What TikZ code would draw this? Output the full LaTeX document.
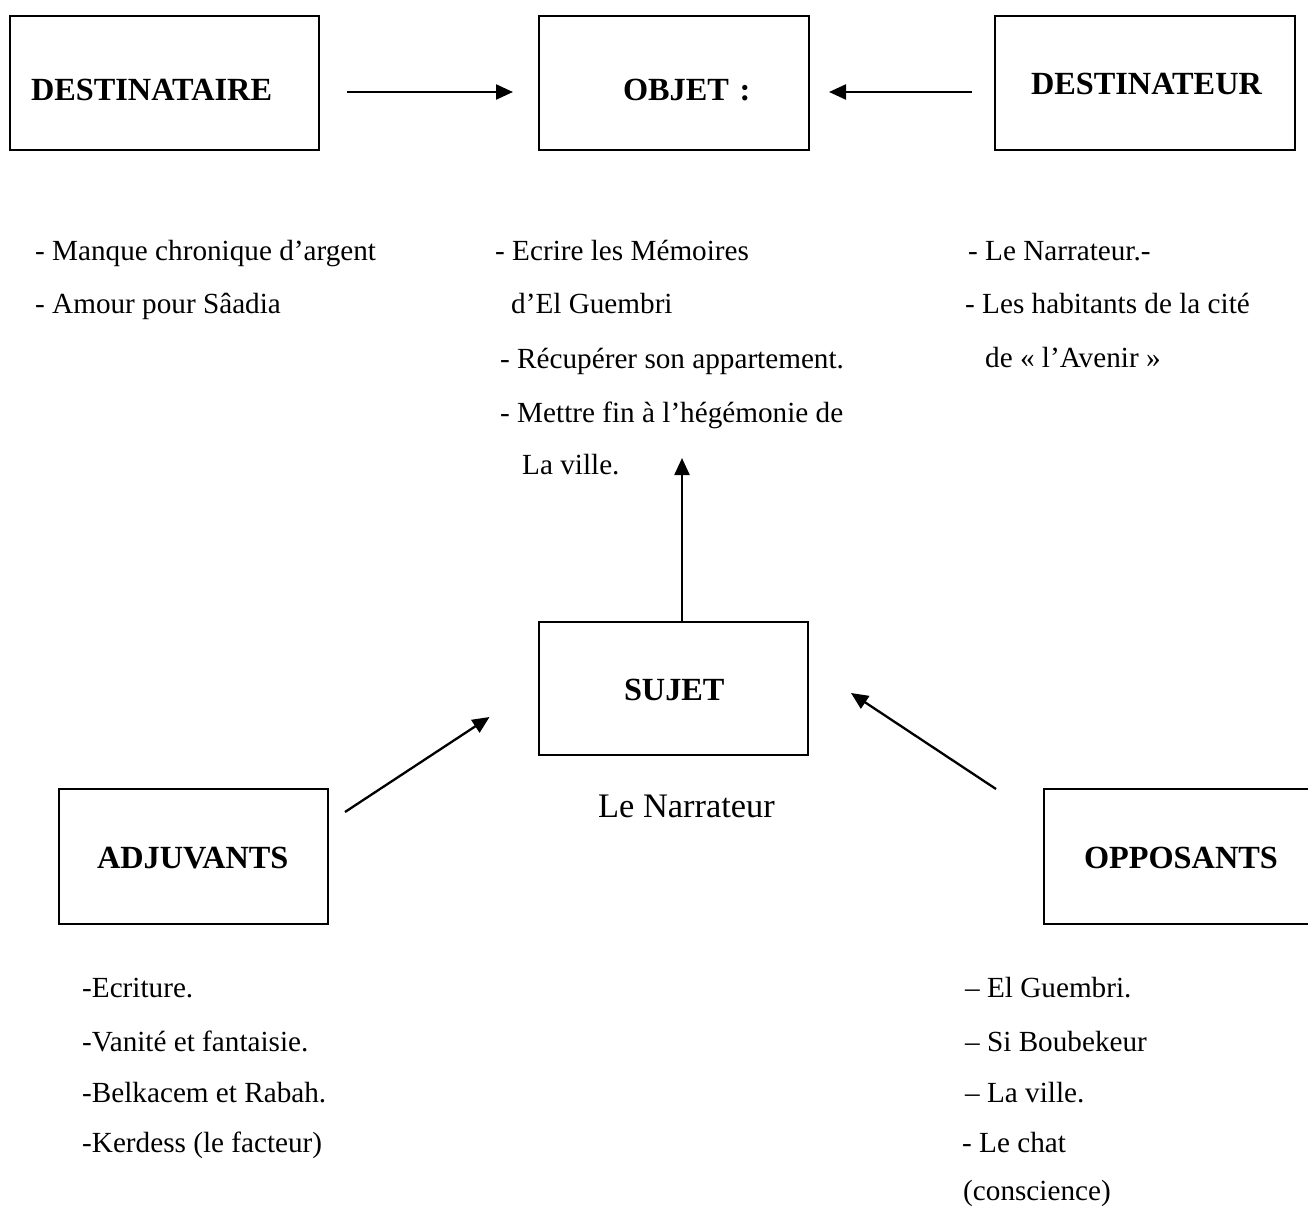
\documentclass[tikz,border=0pt]{standalone}
\usepackage{fontspec}
\setmainfont{Liberation Serif}
\usetikzlibrary{arrows.meta}
\newcommand{\hdfont}{\fontsize{32.3}{38}\selectfont\bfseries}
\newcommand{\bdfont}{\fontsize{29.2}{35}\selectfont}
\newcommand{\bgfont}{\fontsize{34.4}{40}\selectfont}
\begin{document}
\begin{tikzpicture}[x=1pt,y=-1pt,
  box/.style={draw, line width=2pt, rectangle, inner sep=0pt, align=left,
              anchor=north west, font=\hdfont},
  txt/.style={anchor=base west, inner sep=0pt, font=\bdfont},
  conn/.style={line width=2.3pt, -{Triangle[length=17pt,width=15pt]}}]
\useasboundingbox (0,0) rectangle (1308,1208);
\clip (0,0) rectangle (1308,1208);

% boxes
\node[box, text width=309pt, text height=84pt, text depth=50pt] (dtaire) at (9,15)
  {\hspace*{21pt}DESTINATAIRE};
\node[box, text width=270pt, text height=84pt, text depth=50pt] (objet) at (538,15)
  {\hspace*{84pt}OBJET :};
\node[box, text width=300pt, text height=78pt, text depth=56pt] (dteur) at (994,15)
  {\hspace*{36pt}DESTINATEUR};
\node[box, text width=269pt, text height=78pt, text depth=55pt] (sujet) at (538,621)
  {\hspace*{85pt}SUJET};
\node[box, text width=269pt, text height=79pt, text depth=56pt] (adj) at (58,788)
  {\hspace*{38pt}ADJUVANTS};
\node[box, text width=290pt, text height=79pt, text depth=56pt] (opp) at (1043,788)
  {\hspace*{40pt}OPPOSANTS};

% top lists
\node[txt] (dt1) at (35,260) {- Manque chronique d’argent};
\node[txt] (dt2) at (35,313) {- Amour pour Sâadia};

\node[txt] (ob1) at (495,260) {- Ecrire les Mémoires};
\node[txt] (ob2) at (511,313) {d’El Guembri};
\node[txt] (ob3) at (500,368) {- Récupérer son appartement.};
\node[txt] (ob4) at (500,422) {- Mettre fin à l’hégémonie de};
\node[txt] (ob5) at (522,474) {La ville.};

\node[txt] (de1) at (968,260) {- Le Narrateur.-};
\node[txt] (de2) at (965,313) {- Les habitants de la cité};
\node[txt] (de3) at (985,367) {de « l’Avenir »};

% subject label
\node[txt, font=\bgfont] (narr) at (598,817) {Le Narrateur};

% bottom lists
\node[txt] (ad1) at (82,997) {-Ecriture.};
\node[txt] (ad2) at (82,1051) {-Vanité et fantaisie.};
\node[txt] (ad3) at (82,1102) {-Belkacem et Rabah.};
\node[txt] (ad4) at (82,1152) {-Kerdess (le facteur)};

\node[txt] (op1) at (965,997) {– El Guembri.};
\node[txt] (op2) at (965,1051) {– Si Boubekeur};
\node[txt] (op3) at (965,1102) {– La ville.};
\node[txt] (op4) at (962,1152) {- Le chat};
\node[txt] (op5) at (963,1200) {(conscience)};

% connectors
\draw[conn, shorten <=27pt, shorten >=25pt]
  ([yshift=-9pt]dtaire.east) -- ([yshift=-9pt]objet.west);
\draw[conn, shorten <=22pt, shorten >=19pt]
  ([yshift=-9pt]dteur.west) -- ([yshift=-9pt]objet.east);

\coordinate (objtip) at (682,458);
\draw[conn] (sujet.north -| objtip) -- (objtip);

\coordinate (adjtail) at (345,812);
\coordinate (adjtip) at (489.5,717);
\draw[conn] (adjtail) -- (adjtip);

\coordinate (opptail) at (996,789);
\coordinate (opptip) at (851,693);
\draw[conn] (opptail) -- (opptip);
\end{tikzpicture}
\end{document}
